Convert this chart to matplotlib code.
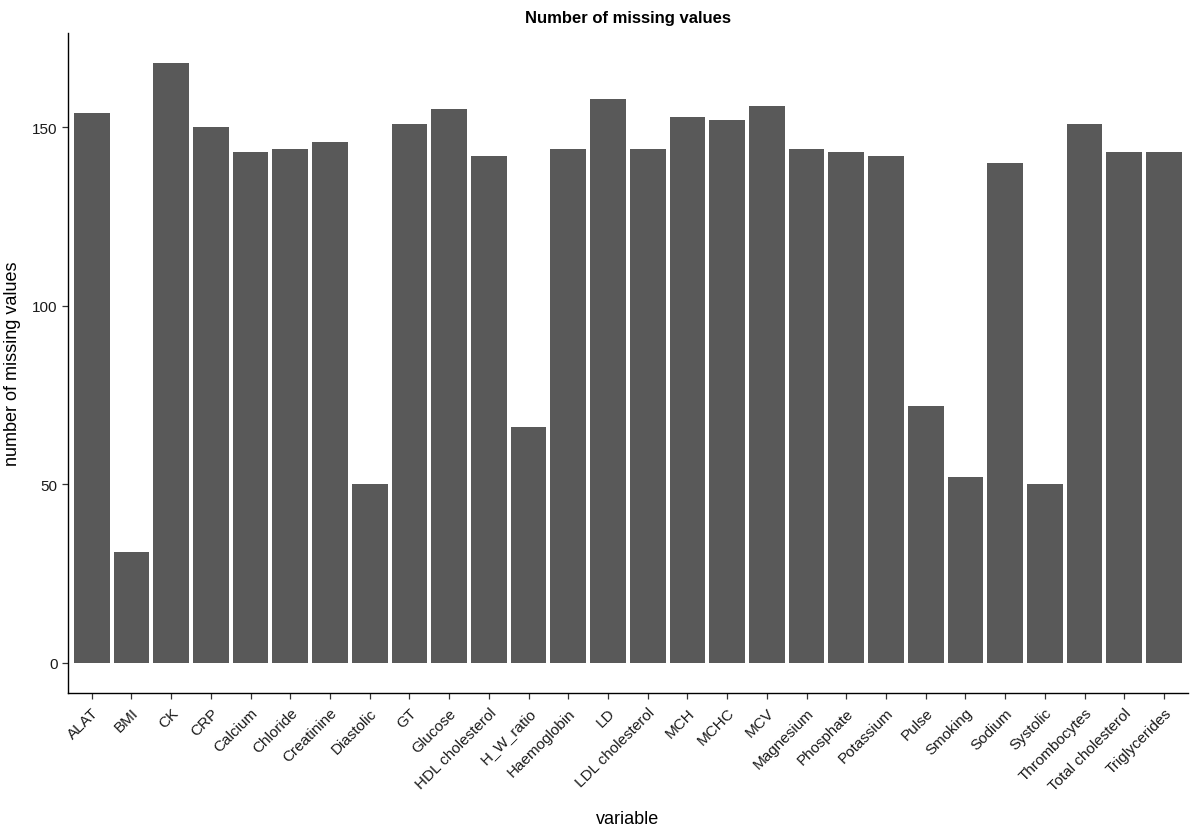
import matplotlib.pyplot as plt
import numpy as np

plt.rcParams['font.family'] = ['Liberation Sans', 'DejaVu Sans']

variables = ['ALAT', 'BMI', 'CK', 'CRP', 'Calcium', 'Chloride', 'Creatinine',
             'Diastolic', 'GT', 'Glucose', 'HDL cholesterol', 'H_W_ratio',
             'Haemoglobin', 'LD', 'LDL cholesterol', 'MCH', 'MCHC', 'MCV',
             'Magnesium', 'Phosphate', 'Potassium', 'Pulse', 'Smoking', 'Sodium',
             'Systolic', 'Thrombocytes', 'Total cholesterol', 'Triglycerides']
n_missing = [154, 31, 168, 150, 143, 144, 146,
             50, 151, 155, 142, 66,
             144, 158, 144, 153, 152, 156,
             144, 143, 142, 72, 52, 140,
             50, 151, 143, 143]
y_ticks = [0, 50, 100, 150]

fig = plt.figure(figsize=(11.92, 8.28), dpi=100)
ax = fig.add_axes([0.057, 0.162, 0.9395, 0.797])

x = np.arange(1, len(variables) + 1)
ax.bar(x, n_missing, width=0.9, color='#595959', edgecolor='none')

top = max(n_missing)
ax.set_ylim(-0.05 * top, top * 1.05)
ax.set_xlim(0.4, len(variables) + 0.6)

ax.set_yticks(y_ticks)
ax.set_xticks(x)
ax.set_xticklabels(variables, rotation=45, ha='right', rotation_mode='anchor')
ax.tick_params(axis='both', colors='#333333', labelcolor='#1a1a1a',
               labelsize=11, length=4, width=0.9)
ax.tick_params(axis='x', pad=5)

for side in ['top', 'right']:
    ax.spines[side].set_visible(False)
for side in ['left', 'bottom']:
    ax.spines[side].set_linewidth(1.0)
    ax.spines[side].set_color('black')

ax.set_title('Number of missing values', fontsize=12, fontweight='bold', pad=8)
ax.set_xlabel('variable', fontsize=13, labelpad=12)
ax.set_ylabel('number of missing values', fontsize=13, labelpad=8)

fig.savefig('out.png', dpi=100)
